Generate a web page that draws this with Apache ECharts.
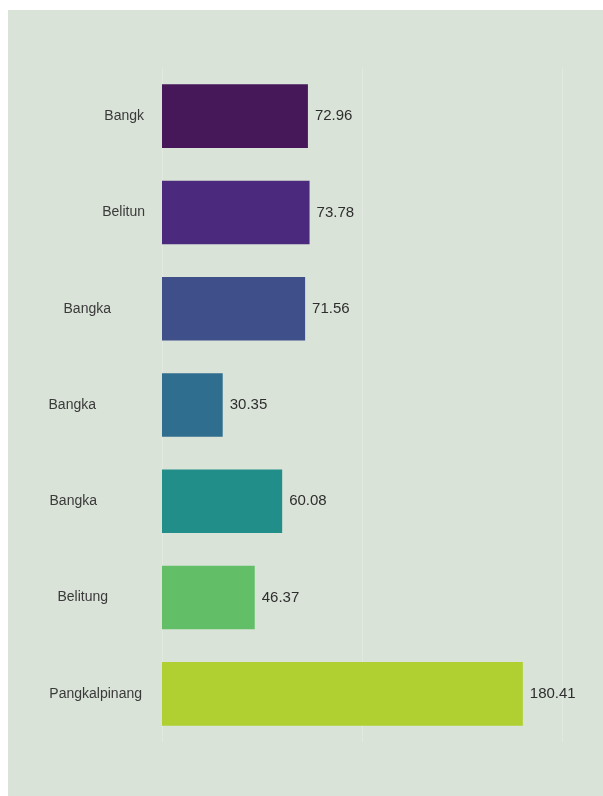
<!DOCTYPE html>
<html>
<head>
<meta charset="utf-8">
<script src="https://cdn.jsdelivr.net/npm/echarts@6/dist/echarts.min.js"></script>
<style>
html,body{margin:0;padding:0;background:#ffffff;width:603px;height:796px;overflow:hidden;}
#chart{position:absolute;left:8px;top:10px;width:595px;height:786px;}
</style>
</head>
<body>
<div id="chart"></div>
<script>
const categories = ['Bangk', 'Belitun', 'Bangka', 'Bangka', 'Bangka', 'Belitung', 'Pangkalpinang'];
const values = [72.96, 73.78, 71.56, 30.35, 60.08, 46.37, 180.41];
const barColors = ['#46185a', '#4b2a7e', '#3e4f8a', '#2f6e8e', '#218e89', '#63bf67', '#b0cf30'];
// per-label gap from axis (styling only)
const labelGaps = [18, 17, 51, 66, 65, 54, 20];

const chart = echarts.init(document.getElementById('chart'), null, {renderer: 'canvas'});
chart.setOption({
  backgroundColor: '#dae3d8',
  animation: false,
  grid: {left: 154, top: 58, right: 41, bottom: 54, containLabel: false},
  xAxis: {
    type: 'value',
    min: 0, max: 200, interval: 100,
    axisLine: {show: false},
    axisTick: {show: false},
    axisLabel: {show: false},
    splitLine: {show: true, lineStyle: {color: '#e2e9e0', width: 1}}
  },
  yAxis: {
    type: 'category',
    inverse: true,
    data: categories.map((c, i) => ({value: c, textStyle: {padding: [0, labelGaps[i] - 8, 0, 0]}})),
    axisLine: {show: false},
    axisTick: {show: false},
    splitLine: {show: false},
    axisLabel: {
      margin: 8,
      color: '#3a3a3a',
      fontFamily: 'Liberation Sans, Arial, sans-serif',
      fontSize: 14
    }
  },
  series: [{
    type: 'bar',
    barCategoryGap: '34%',
    data: values.map((v, i) => ({value: v, itemStyle: {color: barColors[i]}})),
    label: {
      show: true,
      position: 'right',
      distance: 7,
      color: '#2e2e2e',
      fontFamily: 'Liberation Sans, Arial, sans-serif',
      fontSize: 15,
      formatter: p => p.value.toFixed(2)
    }
  }]
});
</script>
</body>
</html>
